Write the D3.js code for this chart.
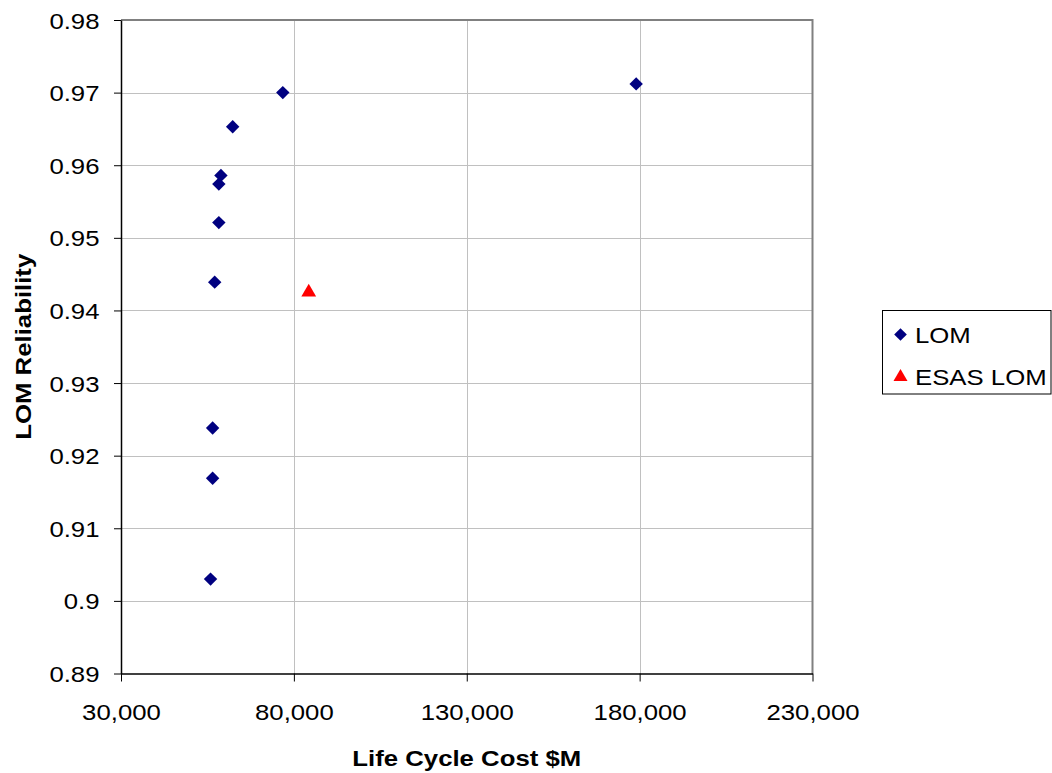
<!DOCTYPE html>
<html><head><meta charset="utf-8">
<script src="https://cdn.jsdelivr.net/npm/d3@7"></script>
<style>
html,body{margin:0;padding:0;background:#fff;}
text{font-family:"Liberation Sans",Arial,sans-serif;}
</style></head>
<body><svg id="c" width="1052" height="773"></svg>
<script>
// Data
const lomCost = [76800, 179000, 62300, 58900, 58300, 58300, 57100, 56500, 56500, 55900];
const lomRel  = [0.9700, 0.9712, 0.9653, 0.9586, 0.9574, 0.9521, 0.9439, 0.9238, 0.9169, 0.9030];
const esasCost = [84300];
const esasRel  = [0.9425];
const xTicks = [30000, 80000, 130000, 180000, 230000];
const yTicks = [0.89, 0.90, 0.91, 0.92, 0.93, 0.94, 0.95, 0.96, 0.97, 0.98];
const seriesNames = ["LOM", "ESAS LOM"];
const xTitle = "Life Cycle Cost $M";
const yTitle = "LOM Reliability";

const svg = d3.select("#c");
const L = 121, R = 812.5, T = 20, B = 673.5;
const SX = 1.12;
const x = d3.scaleLinear().domain([30000, 230000]).range([L, R]);
const y = d3.scaleLinear().domain([0.89, 0.98]).range([B, T]);

// gridlines
svg.append("g").selectAll("line").data(yTicks.slice(1)).join("line")
  .attr("x1", L).attr("x2", R).attr("y1", d => Math.round(y(d)) + 0.5).attr("y2", d => Math.round(y(d)) + 0.5)
  .attr("stroke", "#c0c0c0").attr("stroke-width", 1);
svg.append("g").selectAll("line").data(xTicks.slice(1, -1)).join("line")
  .attr("y1", T).attr("y2", B).attr("x1", d => Math.round(x(d)) + 0.5).attr("x2", d => Math.round(x(d)) + 0.5)
  .attr("stroke", "#c0c0c0").attr("stroke-width", 1);
// top/right border
svg.append("path").attr("d", `M${L},${T} H${R} V${B}`).attr("fill", "none")
  .attr("stroke", "#808080").attr("stroke-width", 2);

// axes
const fmt = d3.format(",");
const xAxis = svg.append("g").attr("transform", `translate(0,${B})`)
  .call(d3.axisBottom(x).tickValues(xTicks).tickFormat(fmt).tickSize(8).tickSizeOuter(0).tickPadding(0));
xAxis.select(".domain").attr("stroke", "#000").attr("stroke-width", 1.5);
xAxis.selectAll(".tick line").attr("stroke", "#000");
xAxis.selectAll(".tick text").attr("font-size", 23).attr("fill", "#000")
  .attr("y", 47).attr("dy", 0).attr("transform", `scale(${SX},1)`);

const yAxis = svg.append("g").attr("transform", `translate(${L},0)`)
  .call(d3.axisLeft(y).tickValues(yTicks).tickFormat(d => d3.format("")(+d.toFixed(2))).tickSize(7).tickSizeOuter(0));
yAxis.select(".domain").attr("stroke", "#000").attr("stroke-width", 1.5);
yAxis.selectAll(".tick line").attr("stroke", "#000");
yAxis.selectAll(".tick text").attr("font-size", 23).attr("fill", "#000")
  .attr("x", -21.5 / SX).attr("dy", "0.35em").attr("transform", `scale(${SX},1)`);
svg.selectAll(".tick text").attr("font-family", "Liberation Sans, Arial, sans-serif");

// titles
svg.append("text").attr("transform", `translate(${(L + R) / 2},766) scale(${SX},1)`)
  .attr("text-anchor", "middle").attr("font-size", 23).attr("font-weight", "bold").text(xTitle);
svg.append("text").attr("transform", `translate(31,${(T + B) / 2}) rotate(-90) scale(${SX},1)`)
  .attr("text-anchor", "middle").attr("font-size", 23).attr("font-weight", "bold").text(yTitle);

// points
const diamond = d3.symbol().type(d3.symbolSquare).size(90);
const tri = d3.symbol().type(d3.symbolTriangle).size(95);
const lom = lomCost.map((c, i) => ({c, r: lomRel[i]}));
svg.append("g").selectAll("path").data(lom).join("path")
  .attr("d", diamond).attr("fill", "#000080")
  .attr("transform", d => `translate(${x(d.c)},${y(d.r)}) rotate(45)`);
const esas = esasCost.map((c, i) => ({c, r: esasRel[i]}));
svg.append("g").selectAll("path").data(esas).join("path")
  .attr("d", tri).attr("fill", "#ff0000")
  .attr("transform", d => `translate(${x(d.c)},${y(d.r)})`);

// legend
const lg = svg.append("g");
lg.append("rect").attr("x", 882.5).attr("y", 310.5).attr("width", 168.5).attr("height", 83.5)
  .attr("fill", "#fff").attr("stroke", "#000").attr("stroke-width", 1);
lg.append("path").attr("d", d3.symbol().type(d3.symbolSquare).size(80))
  .attr("transform", "translate(900.5,334.5) rotate(45)").attr("fill", "#000080");
lg.append("path").attr("d", d3.symbol().type(d3.symbolTriangle).size(85))
  .attr("transform", "translate(900.5,377)").attr("fill", "#ff0000");
seriesNames.forEach((n, i) => {
  lg.append("text").attr("transform", `translate(915,${[342.5, 384.5][i]}) scale(${SX},1)`)
    .attr("font-size", 23).text(n);
});
</script></body></html>
